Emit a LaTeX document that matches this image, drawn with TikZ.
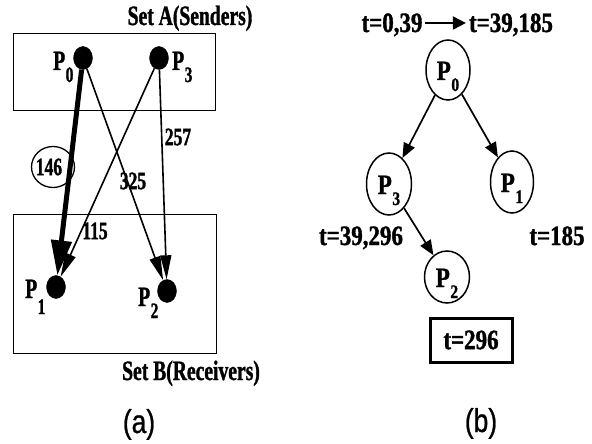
\documentclass[tikz,border=0pt]{standalone}
\usepackage{fontspec}
\newfontfamily\serifn{Liberation Serif}[FakeStretch=0.70, FakeBold=1.2]
\newfontfamily\serifw{Liberation Serif}[FakeStretch=0.82, FakeBold=1.2]
\newfontfamily\sansr{Liberation Sans}[FakeStretch=0.8, FakeBold=0.8]
\usetikzlibrary{arrows.meta,shapes.geometric}

% P with a lowered index, for the dot labels and for the tree nodes
\newcommand\PLab[2][12pt]{P\kern0.5pt\raisebox{-#1}{\fontsize{22}{22}\selectfont #2}}
\newcommand\PNode[1]{P\kern0.5pt\raisebox{-11pt}{\fontsize{19}{19}\selectfont #1}}

\begin{document}
\begin{tikzpicture}[x=1pt,y=-1pt,
  txta/.style={font=\serifn\bfseries\fontsize{28}{28}\selectfont, inner sep=0pt},
  num/.style={font=\serifn\bfseries\fontsize{25}{25}\selectfont, inner sep=0pt},
  txtb/.style={font=\serifw\bfseries\fontsize{28}{28}\selectfont, inner sep=0pt},
  caption/.style={font=\sansr\fontsize{33}{33}\selectfont, inner sep=0pt},
  setbox/.style={draw, line width=0.8pt, inner sep=0pt},
  dot/.style={ellipse, draw, fill, inner sep=0pt, minimum width=19pt, minimum height=23pt},
  proc/.style={ellipse, draw, line width=1.5pt, inner sep=0pt, txtb,
               text height=20pt, text depth=0pt},
  thick msg/.style={line width=5pt, -{Triangle[length=35pt,width=20pt]}},
  thin msg/.style={line width=1.6pt, -{Triangle[length=24pt,width=11pt]}},
  tree edge/.style={line width=1.7pt, -{Triangle[length=15pt,width=12pt]}}
]
\useasboundingbox (0,0) rectangle (592,444);

% ---------- (a) senders and receivers ----------
\node[setbox, minimum width=202pt, minimum height=77pt] (setA) at (114,71.5) {};
\node[setbox, minimum width=203pt, minimum height=139pt] (setB) at (114.5,283.5) {};
\node[txta, anchor=base] (titleA) at (190,25) {Set A(Senders)};
\node[txta, anchor=base] (titleB) at (191,380) {Set B(Receivers)};

\node[dot] (p0) at (83,58) {};
\node[dot] (p3) at (159,58) {};
\node[dot] (p1) at (56,287) {};
\node[dot] (p2) at (167,291) {};

\node[txta, anchor=base west] (l0) at (53,70) {\PLab{0}};
\node[txta, anchor=base west] (l3) at (172,70) {\PLab{3}};
\node[txta, anchor=base west] (l1) at (25,298) {\PLab[16pt]{1}};
\node[txta, anchor=base west] (l2) at (138,306) {\PLab{2}};

\draw[thick msg] (p0) -- (p1);
\draw[thin msg] (p3) -- (p1);
\draw[thin msg] (p0) -- (p2);
\draw[thin msg] (p3) -- (p2);

\node[ellipse, draw, line width=1.3pt, minimum width=43pt, minimum height=41pt,
      inner sep=0pt] (c146) at (53,167) {};
\node[num] (w146) at (49,167) {146};
\node[num] (w325) at (133,181) {325};
\node[num] (w257) at (178,137) {257};
\node[num] (w115) at (95,231) {115};

\node[caption, anchor=base] (capa) at (139,433) {(a)};

% ---------- (b) broadcast tree ----------
\node[txtb, anchor=base, text height=18pt, text depth=0pt] (t0) at (392,32) {t=0,39};
\node[txtb, anchor=base, text height=18pt, text depth=0pt] (t1) at (511,32) {t=39,185};
\draw[line width=2.2pt, -{Triangle[length=13pt,width=13pt]}, shorten <=2pt, shorten >=3pt]
  (t0.east) -- (t1.west);

\node[proc, minimum width=44pt, minimum height=60pt] (e0) at (448,70) {\PNode{0}};
\node[proc, minimum width=45pt, minimum height=62pt] (e3) at (389,184) {\PNode{3}};
\node[proc, minimum width=43pt, minimum height=62pt] (e1) at (512,182) {\PNode{1}};
\node[proc, minimum width=45pt, minimum height=52pt] (e2) at (447,277) {\PNode{2}};

\draw[tree edge] (e0) -- (e3);
\draw[tree edge] (e0) -- (e1);
\draw[tree edge] (e3) -- (e2);

\node[txtb, anchor=base] (t3) at (361,245) {t=39,296};
\node[txtb, anchor=base] (t185) at (557,245) {t=185};
\node[txtb, draw, line width=3pt, minimum width=82pt, minimum height=44pt] (t296) at (471,340) {t=296};

\node[caption, anchor=base] (capb) at (481,432) {(b)};
\end{tikzpicture}
\end{document}
